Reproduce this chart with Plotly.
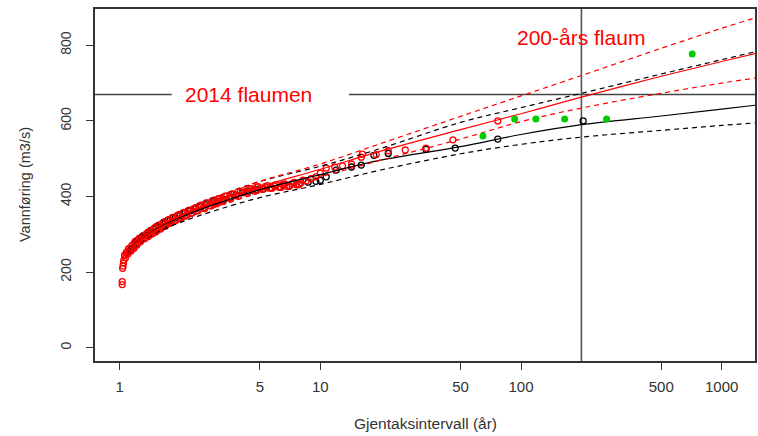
import numpy as np
import plotly.graph_objects as go

# ---------------- data ----------------
# red open circles (return period, discharge)
red_T = [76.6, 45.8, 33.6, 26.5, 21.8, 19.0, 16.2, 16.0, 14.3, 12.9, 11.8, 10.7, 10.0, 9.5, 9.0, 8.5,
         8.0, 7.6, 7.2, 6.8, 6.5, 6.2, 5.9, 5.6, 5.3, 5.0, 4.8, 4.6, 4.4, 4.2, 4.0, 3.8, 3.65, 3.5,
         3.35, 3.2, 3.1, 3.0, 2.9, 2.8, 2.7, 2.6, 2.5, 2.42, 2.34, 2.26, 2.19, 2.12, 2.06, 2.0, 1.94,
         1.88, 1.83, 1.78, 1.73, 1.69, 1.64, 1.6, 1.56, 1.52, 1.49, 1.45, 1.42, 1.39, 1.36, 1.33, 1.3,
         1.27, 1.25, 1.22, 1.2, 1.18, 1.16, 1.14, 1.12, 1.1, 1.09, 1.07, 1.06, 1.05, 1.045, 1.04,
         1.035, 1.03, 1.03,
         1.06, 1.08, 1.11, 1.13, 1.15, 1.17, 1.19, 1.21, 1.24, 1.28, 1.31, 1.35, 1.38, 1.41, 1.44,
         1.48, 1.51, 1.55, 1.58, 1.62, 1.66, 1.71, 1.75, 1.8, 1.85, 1.91, 1.97, 2.03, 2.09, 2.16,
         2.23, 2.3, 2.38, 2.46, 2.55, 2.65, 2.75, 2.85, 2.95, 3.05, 3.15, 3.28, 3.42, 3.58, 3.72,
         3.9, 4.1, 4.3, 4.5, 4.7, 4.9, 5.15, 5.45, 5.75, 6.05, 6.35, 6.65, 7.0, 7.4, 7.8, 8.2]
red_Q = [600, 550, 528, 523, 521, 511, 512, 504, 486, 481, 478, 475, 462, 452, 447, 441,
         436, 431, 433, 427, 431, 425, 428, 422, 426, 420, 424, 416, 421, 411, 412, 402, 407, 396,
         401, 389, 394, 383, 389, 376, 383, 369, 375, 362, 368, 355, 362, 348, 356, 342, 350,
         336, 344, 329, 337, 321, 330, 314, 322, 307, 316, 301, 309, 294, 302, 288, 295,
         280, 289, 272, 282, 263, 272, 256, 262, 248, 254, 238, 245, 232, 224, 216,
         210, 175, 167,
         244, 252, 262, 258, 270, 266, 279, 276, 286, 284, 296, 292, 304, 298, 311,
         305, 318, 312, 325, 318, 332, 325, 339, 331, 345, 337, 352, 344, 358, 350,
         364, 356, 370, 362, 377, 368, 383, 375, 390, 381, 395, 387, 401, 394, 407,
         401, 415, 409, 421, 414, 426, 419, 429, 422, 431, 424, 433, 427, 437, 431, 443]

# black open circles
blk_T = [204, 76.6, 47.0, 33.6, 21.8, 18.5, 16.0, 14.3, 12.0, 10.7, 10.0, 9.5, 8.7, 7.8, 7.0, 6.3,
         5.7, 5.2, 4.8, 4.4, 4.1, 3.8, 3.55, 3.3, 3.1, 2.9, 2.7, 2.55, 2.4, 2.25, 2.12, 2.0, 1.89,
         1.78, 1.68, 1.59, 1.5, 1.42, 1.35, 1.29, 1.26, 1.2, 1.15]
blk_Q = [600, 552, 528, 525, 514, 509, 483, 478, 470, 452, 443, 440, 438, 432, 428, 425,
         423, 420, 418, 414, 410, 404, 398, 392, 387, 383, 378, 373, 368, 362, 356, 350, 343,
         336, 328, 320, 314, 306, 298, 290, 284, 272, 262]

# green filled dots (historical floods)
grn_T = [64.6, 93.0, 118.6, 165.0, 267.0, 713.0]
grn_Q = [560, 605, 605, 605, 605, 777]

# fitted curves with confidence bands
curve_T = [1.1, 1.2, 1.5, 2, 3, 5, 10, 20, 50, 100, 200, 500, 1000, 1500]
red_fit = [248, 276, 316, 348, 386, 426, 472, 520, 577, 619, 663, 718, 757, 779]
red_hi = [256, 285, 327, 360, 398, 440, 486, 540, 612, 666, 720, 792, 845, 874]
red_lo = [240, 267, 305, 337, 372, 410, 452, 496, 552, 598, 634, 673, 700, 714]
blk_fit = [250, 277, 314, 345, 380, 418, 458, 496, 532, 564, 590, 613, 631, 642]
blk_hi = [258, 288, 327, 360, 398, 440, 480, 527, 596, 635, 673, 724, 762, 784]
blk_lo = [242, 266, 302, 331, 363, 397, 432, 470, 513, 538, 557, 575, 588, 595]

flood_2014 = 670
T200 = 200
label_2014_T = 4.4
label_gap_T = [1.82, 13.9]   # where the 2014 line is interrupted by its label
label_200_Q = 820

x_ticks = [1, 5, 10, 50, 100, 500, 1000]
y_ticks = [0, 200, 400, 600, 800]

xr = [-0.1227, 3.166]
yr = [-35.2, 896]

FONT = "Liberation Sans, Arial, sans-serif"
TXT = "#333333"

fig = go.Figure()

# reference lines
fig.add_trace(go.Scatter(x=[10 ** xr[0], label_gap_T[0], None, label_gap_T[1], 10 ** xr[1]],
                         y=[flood_2014, flood_2014, None, flood_2014, flood_2014], mode="lines",
                         line=dict(color="#444444", width=1.4), hoverinfo="skip", showlegend=False))
fig.add_trace(go.Scatter(x=[T200, T200], y=yr, mode="lines",
                         line=dict(color="#555555", width=1.6), hoverinfo="skip", showlegend=False))

# points
fig.add_trace(go.Scatter(x=blk_T, y=blk_Q, mode="markers",
                         marker=dict(symbol="circle-open", size=6, color="black", line=dict(width=1.3)),
                         showlegend=False))
fig.add_trace(go.Scatter(x=red_T, y=red_Q, mode="markers",
                         marker=dict(symbol="circle-open", size=6, color="red", line=dict(width=1.3)),
                         showlegend=False))

DASH = "5px,4px"
for ys, col, dash in [(blk_fit, "black", "solid"), (blk_hi, "black", DASH), (blk_lo, "black", DASH),
                      (red_fit, "red", "solid"), (red_hi, "red", DASH), (red_lo, "red", DASH)]:
    fig.add_trace(go.Scatter(x=curve_T, y=ys, mode="lines", line_shape="spline",
                             line=dict(color=col, width=1.2, dash=dash), showlegend=False))

fig.add_trace(go.Scatter(x=grn_T, y=grn_Q, mode="markers",
                         marker=dict(symbol="circle", size=7, color="#00cc00"), showlegend=False))

# text labels
fig.add_annotation(x=np.log10(label_2014_T), y=flood_2014, text="2014 flaumen", showarrow=False,
                   font=dict(family=FONT, size=21, color="red"),
                   xanchor="center", yanchor="middle")
fig.add_annotation(x=np.log10(T200), y=label_200_Q, text="200-års flaum", showarrow=False,
                   font=dict(family=FONT, size=21, color="red"), xanchor="center", yanchor="middle")

# axis titles
fig.add_annotation(x=0.5, xref="paper", y=0, yref="paper", yshift=-62, text="Gjentaksintervall (år)",
                   showarrow=False, font=dict(family=FONT, size=15.5, color=TXT),
                   xanchor="center", yanchor="middle")
fig.add_annotation(x=0, xref="paper", y=0.5, yref="paper", xshift=-70, text="Vannføring (m3/s)",
                   textangle=-90, showarrow=False, font=dict(family=FONT, size=14.5, color=TXT),
                   xanchor="center", yanchor="middle")

axis_common = dict(showline=True, mirror=True, linecolor="#333333", linewidth=1.5,
                   ticks="outside", ticklen=7, tickcolor="#333333", tickwidth=1.3,
                   showgrid=False, zeroline=False)

fig.update_xaxes(type="log", range=xr, tickvals=x_ticks, ticktext=[str(v) for v in x_ticks],
                 tickfont=dict(family=FONT, size=15, color=TXT), ticklabelstandoff=4, **axis_common)
fig.update_yaxes(range=yr, tickvals=y_ticks, ticktext=[str(v) for v in y_ticks], tickangle=-90,
                 tickfont=dict(family=FONT, size=14, color=TXT), ticklabelstandoff=10, **axis_common)

fig.update_layout(width=758, height=436, margin=dict(l=95, r=1, t=9, b=75),
                  plot_bgcolor="white", paper_bgcolor="white", showlegend=False)

fig.write_html("out.html")
